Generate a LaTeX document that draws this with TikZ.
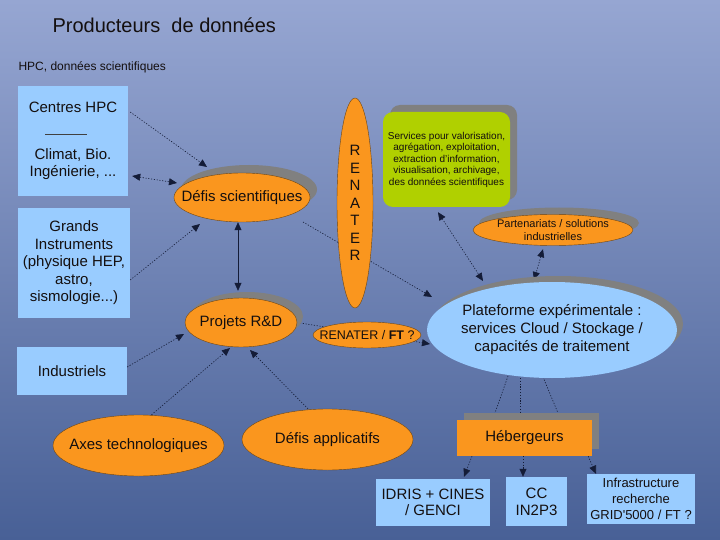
\documentclass[tikz,border=0pt]{standalone}
\usepackage{fontspec}
\setmainfont{Liberation Sans}
\usetikzlibrary{shapes.geometric,arrows.meta,shadows}
\pgfdeclarelayer{back}
\pgfdeclarelayer{conn}
\pgfsetlayers{back,conn,main}
\newcommand{\fsz}[2]{\fontsize{#1}{#2}\selectfont}
\definecolor{bgtop}{RGB}{150,166,210}
\definecolor{bgbot}{RGB}{72,96,150}
\definecolor{lblue}{RGB}{153,204,255}
\definecolor{orng}{RGB}{250,150,30}
\definecolor{lgreen}{RGB}{176,208,0}
\definecolor{shgray}{RGB}{128,128,128}
\definecolor{conn}{RGB}{20,28,55}
\definecolor{edgec}{RGB}{110,70,20}
\definecolor{txtc}{RGB}{20,15,15}
\begin{document}
\begin{tikzpicture}[x=1pt,y=-1pt,
  every node/.style={text=txtc},
  bx/.style={rectangle, fill=lblue, inner sep=0pt, align=center, font=\fsz{15}{17.5}},
  ell/.style={ellipse, inner sep=0pt, draw=edgec, line width=0.4pt},
  lab/.style={align=center, font=\fsz{15}{18}},
  sh/.style 2 args={drop shadow={shadow xshift=#1, shadow yshift=#2, fill=shgray, opacity=1}},
  lnk/.style={draw=conn, line width=0.6pt, dash pattern=on 1.2pt off 1.6pt},
  hd/.style={-{Triangle[length=8pt,width=7pt]}},
  hdd/.style={{Triangle[length=8pt,width=7pt]}-{Triangle[length=8pt,width=7pt]}},
]
\useasboundingbox (0,0) rectangle (720,540);
\begin{pgfonlayer}{back}
\shade[top color=bgtop,bottom color=bgbot] (0,0) rectangle (720,540);
\end{pgfonlayer}

\node[anchor=base west, font=\fsz{20}{24}] (title) at (49,33) {Producteurs~~de données};
\node[anchor=base west, font=\fsz{12}{14}] (sub) at (15,71) {HPC, données scientifiques};

\node[bx, minimum width=110pt, minimum height=110pt] (hpc) at (73,141) {Centres HPC\\[29.5pt]Climat, Bio.\\Ingénierie, ...};
\draw[line width=0.6pt, black!75] (45,134) -- (87,134);
\node[bx, minimum width=112pt, minimum height=110pt] (gi) at (74,263) {Grands\\Instruments\\(physique HEP,\\astro,\\sismologie...)};
\node[bx, minimum width=110pt, minimum height=48pt] (ind) at (72,371) {Industriels};

\node[ell, fill=orng, minimum width=136pt, minimum height=49pt, sh={7pt}{8pt}, label={[lab]center:Défis scientifiques}] (dsci) at (242,197.5) {};
\node[ell, fill=orng, minimum width=36pt, minimum height=210pt, label={[lab, font=\fsz{15}{17.5}]center:{R\\E\\N\\A\\T\\E\\R}}] (ren) at (355,203) {};
\node[rectangle, rounded corners=10pt, fill=lgreen, minimum width=127pt, minimum height=95pt, inner sep=0pt, align=center, font=\fsz{10}{11.5}, sh={7pt}{7pt}] (svc) at (446.5,159.5) {Services pour valorisation,\\agrégation, exploitation,\\extraction d'information,\\visualisation, archivage,\\des données scientifiques};
\node[ell, fill=orng, minimum width=160pt, minimum height=31pt, sh={6pt}{7pt}, label={[lab, font=\fsz{11}{13}]center:{Partenariats / solutions\\industrielles}}] (part) at (553,230) {};
\node[ell, draw=none, fill=lblue, minimum width=250pt, minimum height=96pt, sh={6pt}{6pt}, label={[lab]center:{Plateforme expérimentale :\\services Cloud / Stockage /\\capacités de traitement}}] (plat) at (552,330) {};
\node[ell, fill=orng, minimum width=112pt, minimum height=49pt, sh={6pt}{6pt}, label={[lab]center:Projets R\&D}] (proj) at (241,322.5) {};
\node[ell, fill=orng, minimum width=108pt, minimum height=26pt, label={[lab, font=\fsz{12.5}{14}]center:{RENATER / \textbf{FT} ?}}] (renft) at (367,335) {};
\node[ell, fill=orng, minimum width=171pt, minimum height=61pt, label={[lab]center:Axes technologiques}] (axes) at (138.5,445.5) {};
\node[ell, fill=orng, minimum width=171pt, minimum height=61pt, label={[lab]center:Défis applicatifs}] (dapp) at (327.5,439.5) {};
\node[rectangle, fill=orng, minimum width=135pt, minimum height=36pt, inner sep=0pt, font=\fsz{15}{17.5}, sh={7pt}{7pt}] (heb) at (524.5,438) {Hébergeurs};
\node[bx, minimum width=114pt, minimum height=47pt, font=\fsz{15}{16}] (idris) at (433,502.5) {IDRIS + CINES\\/ GENCI};
\node[bx, minimum width=61pt, minimum height=49pt, font=\fsz{15}{17}] (cc) at (536.5,501.5) {CC\\IN2P3};
\node[bx, minimum width=108pt, minimum height=50pt, font=\fsz{13}{16}] (infra) at (641,499) {Infrastructure\\recherche\\GRID\textquotesingle 5000 / FT ?};

\begin{pgfonlayer}{conn}
\draw[lnk,hd] ([shift={(2,-29)}]hpc.east) -- ([shift={(-35,-30.5)}]dsci.center);
\draw[lnk,hdd] ([shift={(4,35)}]hpc.east) -- ([shift={(-65,-14.5)}]dsci.center);
\draw[lnk,hd] ([shift={(0,17)}]gi.east) -- ([shift={(-42,26.5)}]dsci.center);
\draw[line width=0.6pt, draw=conn, hdd] ([xshift=-4pt]dsci.south) -- ([xshift=-3pt,yshift=7pt]proj.north);
\draw[lnk,hd] ([shift={(61,24.5)}]dsci.center) -- ([shift={(-120,-33)}]plat.center);
\draw[lnk,hdd] ([shift={(-8.5,5)}]svc.south) -- ([shift={(-69,-49)}]plat.center);
\draw[lnk,hdd] ([shift={(-10,3.5)}]part.south) -- ([shift={(-18,-50)}]plat.center);
\draw[lnk,hd] ([yshift=4pt]ind.east) -- ([shift={(-57,11.5)}]proj.center);
\draw[lnk,hd] ([xshift=13pt]axes.north) -- ([shift={(-11,25.5)}]proj.center);
\draw[lnk,hd] ([xshift=-19.5pt]dapp.north) -- ([shift={(9,27.5)}]proj.center);
\draw[lnk,hd] (proj.east) -- ([shift={(-122,14)}]plat.center);
\draw[lnk] ([shift={(-44,46)}]plat.center) -- ([shift={(-29.5,-25)}]heb.center);
\draw[lnk] ([shift={(-32,48)}]plat.center) -- ([shift={(-4.5,-25)}]heb.center);
\draw[lnk] ([shift={(-9,47)}]plat.center) -- ([shift={(33.5,-25)}]heb.center);
\draw[lnk,hd] ([xshift=-52.5pt]heb.south) -- ([shift={(31,-2)}]idris.north);
\draw[lnk,hd] ([xshift=-1.5pt]heb.south) -- ([xshift=-13.5pt]cc.north);
\draw[lnk,hd] ([xshift=-4pt]heb.south east) -- ([xshift=-45pt]infra.north);
\end{pgfonlayer}
\end{tikzpicture}
\end{document}
